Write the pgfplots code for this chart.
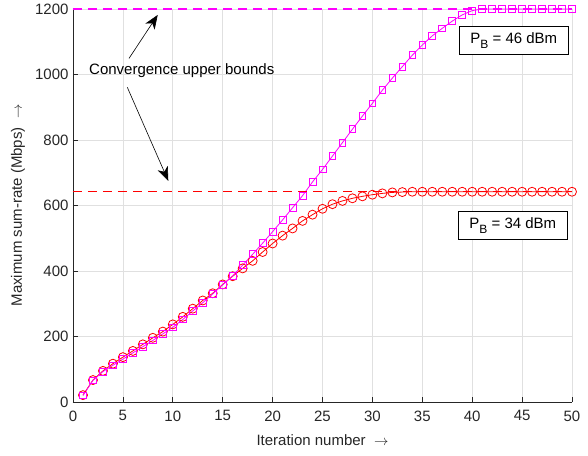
\documentclass[border=0pt]{standalone}
\usepackage{pgfplots}
\pgfplotsset{compat=1.18}
\usepackage{fontspec}
\setmainfont{Liberation Sans}
\usetikzlibrary{arrows.meta}
\definecolor{axgray}{rgb}{0.15,0.15,0.15}
\definecolor{gridgray}{rgb}{0.88,0.88,0.88}
\definecolor{mred}{rgb}{1,0,0}
\definecolor{mmag}{rgb}{1,0,1}

\pgfplotstableread{
it rate
1 21
2 67
3 95
4 117
5 137
6 156
7 176
8 196
9 215
10 237
11 260
12 285
13 310
14 332
15 359
16 384
17 408
18 431
19 458
20 484
21 508
22 530
23 553
24 572
25 590
26 604
27 614
28 622
29 628
30 633
31 637
32 640
33 641
34 642
35 642
36 642
37 642
38 642
39 642
40 642
41 642
42 642
43 642
44 642
45 642
46 642
47 642
48 642
49 642
50 642
}\lowpow

\pgfplotstableread{
it rate
1 20
2 66
3 93
4 112
5 131
6 150
7 169
8 188
9 208
10 228
11 252
12 278
13 303
14 330
15 358
16 385
17 418
18 451
19 485
20 520
21 556
22 593
23 630
24 672
25 710
26 751
27 792
28 833
29 873
30 912
31 952
32 989
33 1024
34 1059
35 1090
36 1118
37 1141
38 1163
39 1182
40 1195
41 1200
42 1200
43 1200
44 1200
45 1200
46 1200
47 1200
48 1200
49 1200
50 1200
}\highpow

\begin{document}
\begin{tikzpicture}
\begin{axis}[
  scale only axis, width=499pt, height=393pt,
  xmin=0, xmax=50, ymin=0, ymax=1200,
  xtick={0,5,...,50}, ytick={0,200,...,1200},
  axis x line*=bottom, axis y line*=left,
  axis line style={axgray, line width=0.6pt},
  tick align=inside, major tick length=5pt,
  tick style={axgray, line width=0.6pt},
  grid=major, major grid style={gridgray, line width=0.6pt},
  tick label style={font=\fontsize{15}{18}\selectfont, text=axgray},
  /pgf/number format/assume math mode=true,
  scaled y ticks=false,
  yticklabel style={/pgf/number format/1000 sep={}, xshift=-1pt},
  xticklabel style={yshift=-5pt},
  label style={font=\fontsize{15}{18}\selectfont, text=axgray},
  xlabel={Iteration number\ \ $\rightarrow$},
  ylabel={Maximum sum-rate (Mbps)\ \ $\rightarrow$},
  xlabel style={at={([yshift=-38pt]axis description cs:0.5,0)}, anchor=center},
  ylabel style={at={([xshift=-55pt]axis description cs:0,0.5)}, anchor=center},
  clip=false,
]
  \addplot[color=mred, line width=0.8pt, mark=o, mark size=4.5pt, mark options={solid, draw=mred}] table[x=it, y=rate] {\lowpow};
  \addplot[color=mmag, line width=0.8pt, mark=square, mark size=3.4pt, mark options={solid, draw=mmag}] table[x=it, y=rate] {\highpow};

  % convergence upper bounds
  \addplot[color=mred, line width=1.5pt, dash pattern=on 9pt off 6pt] coordinates {(0,643) (50,643)};
  \addplot[color=mmag, line width=1.1pt, dash pattern=on 9pt off 6pt] coordinates {(0,1200) (50,1200)};

  \node[font=\fontsize{15}{18}\selectfont, anchor=center] at (axis cs:10.9,1011) {Convergence upper bounds};
  \draw[black, -{Stealth[length=14pt,width=11pt,inset=4pt]}, line width=0.6pt] (axis cs:5.61,1049) -- (axis cs:8.49,1182);
  \draw[black, -{Stealth[length=14pt,width=11pt,inset=4pt]}, line width=0.6pt] (axis cs:5.44,961) -- (axis cs:9.55,675);

  \node[draw=black, fill=white, minimum width=109pt, minimum height=28pt, inner sep=0pt, line width=0.6pt,
        font=\fontsize{15}{18}\selectfont] at (axis cs:44.17,1104) {P\raisebox{-5pt}{\fontsize{12}{12}\selectfont B} = 46 dBm};
  \node[draw=black, fill=white, minimum width=109pt, minimum height=28pt, inner sep=0pt, line width=0.6pt,
        font=\fontsize{15}{18}\selectfont] at (axis cs:44.07,539) {P\raisebox{-5pt}{\fontsize{12}{12}\selectfont B} = 34 dBm};

  \coordinate (bl) at (rel axis cs:0,0);
  \coordinate (tr) at (rel axis cs:1,1);
\end{axis}
\pgfresetboundingbox
\path ([shift={(-73pt,-53pt)}]bl) rectangle ([shift={(16pt,9pt)}]tr);
\end{tikzpicture}
\end{document}
